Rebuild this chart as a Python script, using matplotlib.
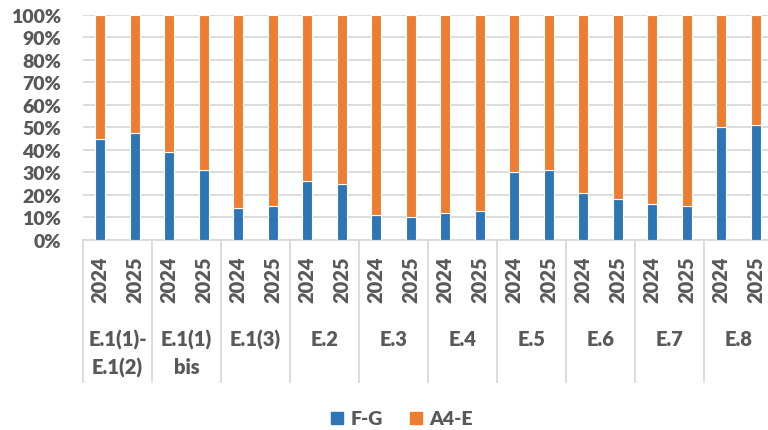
import matplotlib
matplotlib.use("Agg")
import matplotlib.pyplot as plt
import matplotlib.transforms as mtransforms
from matplotlib.lines import Line2D
import numpy as np

# data (share of F-G, in %)
groups = ["E.1(1)-\nE.1(2)", "E.1(1)\nbis", "E.1(3)", "E.2", "E.3",
          "E.4", "E.5", "E.6", "E.7", "E.8"]
years = ["2024", "2025"]
fg = [45, 47.5, 39, 31, 14, 15, 26, 25, 11, 10,
      12, 13, 30, 31, 21, 18, 16, 15, 50, 51]
a4e = [100 - v for v in fg]

blue = "#2E75B6"
orange = "#ED7D31"
grey = "#595959"
grid = "#D9D9D9"
wt = 800

plt.rcParams["font.family"] = ["Lato", "DejaVu Sans"]
plt.rcParams["font.weight"] = wt

fig = plt.figure(figsize=(7.68, 4.31), dpi=100)
W, H = 768, 431
left, right, top, bottom = 83, 773, 15.7, 241
ax = fig.add_axes([left / W, 1 - bottom / H, (right - left) / W, (bottom - top) / H])

x = np.arange(len(fg))
ax.bar(x, fg, width=0.28, color=blue, edgecolor="white", linewidth=0.8, zorder=3)
ax.bar(x, a4e, bottom=fg, width=0.28, color=orange, edgecolor="white", linewidth=0.8, zorder=3)

ax.set_xlim(-0.5, len(fg) - 0.5)
ax.set_ylim(0, 100)
ax.set_yticks(range(0, 101, 10))
ax.set_yticklabels([f"{v}%" for v in range(0, 101, 10)])
ax.yaxis.grid(True, color=grid, linewidth=1.3, zorder=0)
ax.set_axisbelow(True)

ax.set_xticks(x)
ax.set_xticklabels(years * len(groups), rotation=90)
ax.tick_params(axis="x", length=0, pad=11, labelsize=14.5, labelcolor=grey)
ax.tick_params(axis="y", length=0, pad=16, labelsize=14, labelcolor=grey)
for lab in ax.get_xticklabels() + ax.get_yticklabels():
    lab.set_fontweight(wt)

for s in ["left", "right", "top"]:
    ax.spines[s].set_visible(False)
ax.spines["bottom"].set_color(grid)
ax.spines["bottom"].set_linewidth(1.3)

# group separators and group labels under the axis
trans = mtransforms.blended_transform_factory(ax.transData, ax.transAxes)
sep_bottom = -(383 - bottom) / (bottom - top)
for i in range(len(groups) + 1):
    xs = 2 * i - 0.5
    ax.add_line(Line2D([xs, xs], [0, sep_bottom], transform=trans,
                       color=grid, linewidth=1.3, clip_on=False))
for i, g in enumerate(groups):
    ax.text(2 * i + 0.5, -(330 - bottom) / (bottom - top), g, transform=trans,
            ha="center", va="top", fontsize=14.5, color=grey, fontweight=wt,
            linespacing=1.5)

handles = [Line2D([], [], marker="s", linestyle="none", markersize=8, color=blue),
           Line2D([], [], marker="s", linestyle="none", markersize=8, color=orange)]
leg = fig.legend(handles, ["F-G", "A4-E"], ncol=2, loc="center",
                 bbox_to_anchor=(400 / W, 1 - 420 / H), frameon=False,
                 fontsize=14, handletextpad=0.2, columnspacing=1.2, handlelength=1.0)
for t in leg.get_texts():
    t.set_color(grey)
    t.set_fontweight(wt)

fig.savefig("out.png", dpi=100)
